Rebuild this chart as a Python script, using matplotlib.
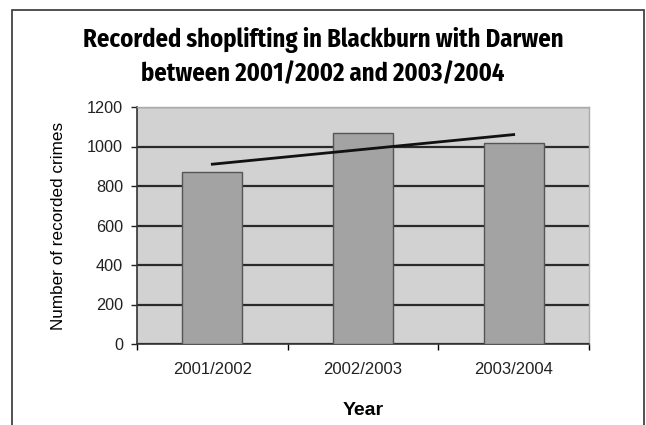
import numpy as np
import matplotlib.pyplot as plt
from matplotlib.patches import Rectangle

# Data
years = ["2001/2002", "2002/2003", "2003/2004"]
crimes = [870, 1066, 1020]
yticks = [0, 200, 400, 600, 800, 1000, 1200]

plt.rcParams['font.family'] = ['Liberation Sans', 'DejaVu Sans']

fig = plt.figure(figsize=(6.46, 4.25), dpi=100)

# outer frame
fig.patches.append(Rectangle((12 / 646, -0.05), 632 / 646, 1 - 10 / 425 + 0.05,
                             transform=fig.transFigure, fill=False,
                             edgecolor="#333333", linewidth=1.2))

ax = fig.add_axes([137 / 646, 1 - 344 / 425, 452 / 646, 237 / 425])
ax.set_facecolor("#d2d2d2")

x = np.arange(1, len(years) + 1)
ax.bar(x, crimes, width=0.4, color="#a3a3a3", edgecolor="#555555",
       linewidth=1.0, zorder=3)

# linear trend line
coef = np.polyfit(x, crimes, 1)
ax.plot(x[[0, -1]], np.polyval(coef, x[[0, -1]]), color="#111111",
        linewidth=2.0, zorder=4)

ax.set_xlim(0.5, 3.5)
ax.set_ylim(0, 1200)
ax.set_yticks(yticks)
ax.tick_params(axis="y", labelsize=11.7, length=4, width=1, colors="#222222",
               pad=6)
ax.yaxis.grid(True, color="#2a2a2a", linewidth=1.6, zorder=1)
ax.set_axisbelow(True)

ax.set_xticks([0.5, 1.5, 2.5, 3.5])
ax.set_xticks(x, minor=True)
ax.set_xticklabels([])
ax.set_xticklabels(years, minor=True)
ax.tick_params(axis="x", which="major", length=4, width=1)
ax.tick_params(axis="x", which="minor", length=0, labelsize=12,
               pad=13, colors="#222222")

for s in ["left", "bottom"]:
    ax.spines[s].set_color("#333333")
    ax.spines[s].set_linewidth(1.2)
for s in ["top", "right"]:
    ax.spines[s].set_color("#aaaaaa")
    ax.spines[s].set_linewidth(1.0)

ax.set_ylabel("Number of recorded crimes", fontsize=12.3, labelpad=15)
ax.set_xlabel("Year", fontsize=14, fontweight="bold", labelpad=18)

fig.text(0.5, 1 - 56.5 / 425, "Recorded shoplifting in Blackburn with Darwen\nbetween 2001/2002 and 2003/2004",
         ha="center", va="center", fontsize=17.7, fontweight="bold",
         family=["Fira Sans Condensed", "DejaVu Sans"], linespacing=1.42)

plt.savefig("out.png", dpi=100)
